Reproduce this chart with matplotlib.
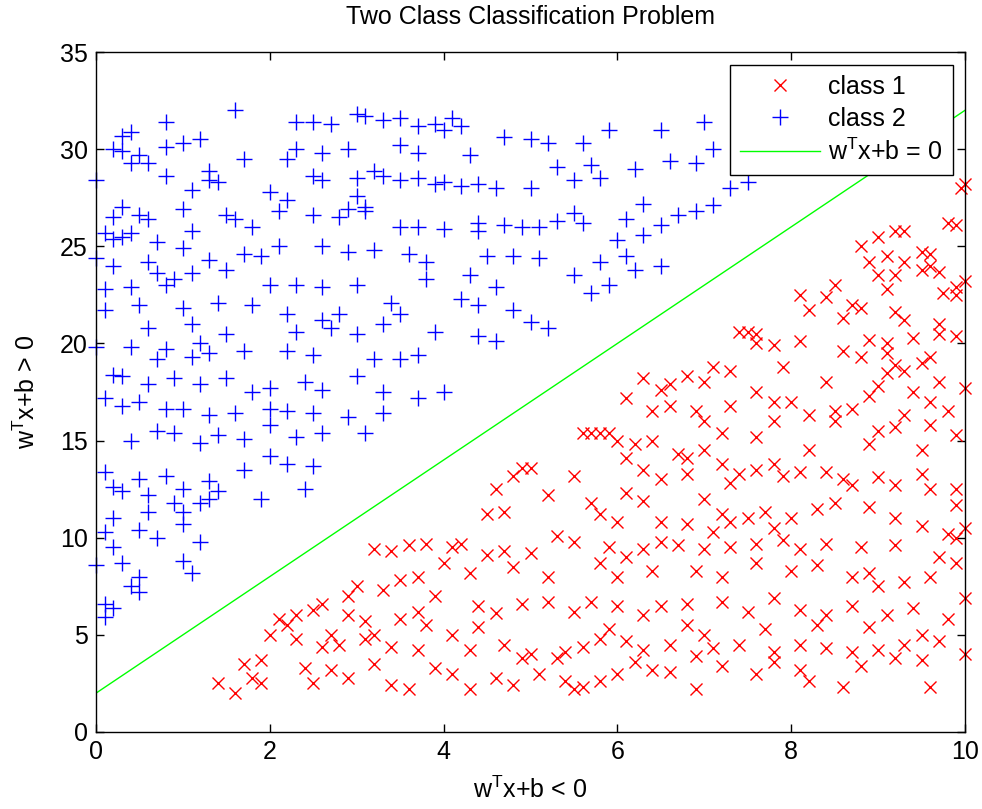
import numpy as np
import matplotlib
matplotlib.use("Agg")
import matplotlib.pyplot as plt

plt.rcParams['font.family'] = ['Liberation Sans', 'DejaVu Sans']
plt.rcParams['mathtext.fontset'] = 'custom'
plt.rcParams['mathtext.rm'] = 'Liberation Sans'
plt.rcParams['mathtext.it'] = 'Liberation Sans'

# class 2 (blue +)
class2 = [
    (1.6, 32), (2.3, 31.4), (2.5, 31.4), (2.7, 31.3), (3.0, 31.8), (3.1, 31.7), (3.3, 31.5), (3.5, 31.6),
    (3.7, 31.2), (3.9, 31.3), (4.1, 31.6), (4.2, 31.2), (4.0, 31.0), (0.8, 31.4), (7.0, 31.4), (7.4, 31.5),
    (1.2, 30.5), (0.3, 30.7), (0.4, 30.9), (0.2, 30.0), (0.3, 29.9), (0.5, 29.7), (0.8, 30.1), (1.0, 30.3),
    (1.7, 29.5), (2.2, 29.5), (2.3, 30.0), (2.6, 29.8), (2.9, 30.0), (3.5, 30.2), (3.7, 29.8), (4.3, 29.7),
    (5.0, 30.5), (5.2, 30.3), (5.6, 30.3), (4.7, 30.6), (5.9, 31.0), (6.5, 31.0), (5.3, 29.1), (6.2, 29.0),
    (6.6, 29.4), (6.9, 29.3), (7.1, 30.0), (7.5, 28.3), (0.0, 28.4), (0.4, 29.3), (0.6, 29.3), (0.8, 28.6),
    (1.3, 28.9), (1.3, 28.4), (1.4, 28.3), (1.1, 27.9), (2.0, 27.8), (2.5, 28.6), (2.6, 28.4), (3.0, 28.5),
    (3.2, 28.9), (3.3, 28.6), (3.5, 28.4), (3.7, 28.5), (3.9, 28.2), (4.0, 28.3), (4.2, 28.1), (4.4, 28.2),
    (4.6, 28.0), (5.0, 28.0), (5.5, 28.4), (5.7, 29.2), (5.8, 28.5), (3.0, 27.6), (3.1, 27.0), (0.3, 27.0),
    (0.2, 26.5), (0.5, 26.6), (0.6, 26.4), (1.0, 26.9), (1.1, 25.8), (1.5, 26.6), (1.6, 26.4), (1.8, 26.0),
    (2.1, 26.8), (2.2, 27.4), (2.5, 26.6), (2.8, 26.5), (2.9, 26.9), (3.1, 26.8), (3.5, 26.0), (3.7, 26.0),
    (4.0, 25.9), (4.4, 25.8), (4.4, 26.2), (4.7, 26.1), (4.9, 26.0), (5.1, 26.0), (5.3, 26.3), (5.5, 26.7),
    (5.6, 26.2), (6.1, 26.4), (6.3, 27.2), (6.7, 26.6), (6.5, 26.1), (6.9, 26.8), (7.1, 27.1), (7.3, 28.0),
    (0.1, 25.7), (0.2, 25.4), (0.3, 25.5), (0.4, 25.7), (0.7, 25.2), (0.0, 24.4), (0.2, 24.0), (0.6, 24.2),
    (1.0, 24.9), (1.3, 24.3), (1.5, 23.8), (1.7, 24.6), (1.9, 24.5), (2.1, 25.0), (2.6, 25.0), (2.9, 24.7),
    (3.2, 24.8), (3.6, 24.6), (3.8, 24.2), (4.5, 24.5), (4.8, 24.5), (5.1, 24.4), (5.5, 23.5), (5.8, 24.2),
    (6.0, 25.3), (6.1, 24.5), (6.3, 25.6), (0.7, 23.6), (0.9, 23.3), (1.1, 23.6), (0.4, 22.9), (0.8, 23.0),
    (0.1, 22.8), (2.0, 23.0), (2.3, 23.0), (2.6, 22.9), (3.0, 23.0), (3.8, 23.3), (4.3, 23.5), (4.6, 22.9),
    (5.7, 22.6), (5.9, 23.0), (6.5, 24.0), (6.2, 23.8), (0.1, 21.7), (0.5, 22.0), (1.0, 21.8), (1.4, 22.1),
    (1.8, 22.0), (2.2, 21.5), (2.6, 21.2), (2.8, 21.5), (3.4, 22.1), (3.5, 21.5), (4.2, 22.3), (4.4, 22.0),
    (4.8, 21.7), (5.0, 21.1), (0.6, 20.8), (1.1, 21.0), (1.5, 20.5), (1.2, 20.0), (2.3, 20.6), (2.7, 20.8),
    (3.0, 20.5), (3.3, 21.0), (3.9, 20.6), (4.4, 20.4), (4.6, 20.1), (5.2, 20.8), (0.0, 19.8), (0.4, 19.8),
    (0.7, 19.2), (0.8, 19.7), (1.1, 19.3), (1.3, 19.5), (1.7, 19.6), (2.2, 19.6), (2.5, 19.4), (3.2, 19.2),
    (3.5, 19.2), (3.7, 19.4), (0.2, 18.4), (0.3, 18.3), (0.6, 17.9), (0.9, 18.2), (1.2, 17.9), (1.5, 18.2),
    (1.8, 17.5), (2.0, 17.7), (2.4, 18.0), (2.6, 17.6), (3.0, 18.3), (3.3, 17.5), (3.7, 17.2), (4.0, 17.5),
    (0.1, 17.2), (0.3, 16.8), (0.5, 17.0), (0.8, 16.6), (1.0, 16.6), (1.3, 16.3), (1.6, 16.4), (2.0, 16.6),
    (2.2, 16.5), (2.5, 16.4), (2.9, 16.2), (3.3, 16.4), (0.4, 15.0), (0.7, 15.5), (0.9, 15.4), (1.2, 14.9),
    (1.4, 15.3), (1.7, 15.1), (2.0, 15.8), (2.3, 15.2), (2.6, 15.4), (3.1, 15.4), (0.1, 13.4), (0.2, 12.6),
    (0.5, 13.0), (0.8, 13.2), (1.0, 12.5), (1.3, 12.9), (1.7, 13.5), (2.2, 13.8), (2.5, 13.7), (2.0, 14.2),
    (0.3, 12.4), (0.6, 12.2), (1.4, 12.4), (1.9, 12.0), (2.4, 12.5), (0.2, 11.0), (0.6, 11.3), (0.9, 11.8),
    (1.0, 11.3), (1.2, 11.8), (1.3, 12.0), (0.5, 10.4), (0.1, 10.3), (0.7, 10.0), (1.0, 10.7), (0.2, 9.5),
    (0.3, 8.7), (0.5, 8.0), (0.4, 7.5), (0.0, 8.6), (1.0, 8.8), (1.1, 8.2), (1.2, 9.8), (0.1, 6.6),
    (0.2, 6.4), (0.1, 5.9), (0.5, 7.2),
]

# class 1 (red x)
class1 = [
    (9.3, 25.8), (9.2, 25.8), (9.8, 26.2), (9.0, 25.5), (8.8, 25.0), (9.1, 24.5), (9.5, 24.7), (9.6, 24.0),
    (9.5, 23.8), (9.7, 23.7), (9.2, 23.5), (9.0, 23.5), (8.5, 23.0), (8.4, 22.4), (8.7, 22.0), (8.6, 21.3),
    (8.2, 21.7), (8.1, 22.5), (9.1, 22.8), (9.2, 21.6), (9.9, 22.9), (10.0, 23.2), (9.9, 22.5), (10.0, 28.2),
    (9.95, 28.0), (9.3, 21.2), (9.1, 20.0), (8.9, 20.2), (9.4, 20.3), (9.7, 20.5), (9.9, 20.4), (7.4, 20.6),
    (7.5, 20.6), (7.6, 20.5), (7.6, 20.0), (7.8, 19.9), (8.6, 19.6), (8.8, 19.3), (9.1, 19.5), (9.2, 18.9),
    (9.3, 18.6), (9.5, 19.0), (9.6, 19.3), (9.1, 18.5), (9.0, 17.8), (8.9, 17.3), (9.4, 17.5), (9.6, 17.0),
    (9.8, 16.5), (9.7, 18.0), (10.0, 17.7), (7.1, 18.8), (7.3, 18.6), (7.0, 18.0), (6.8, 18.3), (6.3, 18.2),
    (6.5, 17.6), (6.1, 17.2), (6.4, 16.5), (6.6, 16.8), (6.9, 16.5), (7.3, 16.8), (7.6, 17.5), (7.8, 17.0),
    (8.0, 17.0), (8.2, 16.3), (8.5, 16.5), (8.7, 16.6), (9.3, 16.3), (9.6, 15.8), (9.0, 15.5), (9.2, 15.7),
    (9.9, 15.3), (7.8, 16.0), (7.6, 15.2), (7.2, 15.4), (7.0, 14.5), (6.7, 14.3), (6.4, 15.0), (6.2, 14.8),
    (6.0, 15.0), (5.9, 15.4), (5.6, 15.4), (5.7, 15.4), (5.8, 15.4), (6.1, 14.1), (6.3, 13.5), (6.5, 13.0),
    (6.8, 14.1), (7.2, 13.8), (7.4, 13.3), (7.6, 13.5), (7.8, 13.8), (7.9, 13.2), (8.1, 13.4), (8.4, 13.4),
    (8.6, 13.0), (8.7, 12.7), (9.0, 13.1), (9.2, 12.7), (9.5, 13.3), (9.6, 12.5), (9.9, 12.5), (6.8, 13.3),
    (7.3, 12.8), (7.0, 12.0), (6.3, 11.9), (6.1, 12.3), (5.5, 13.2), (5.2, 12.2), (4.9, 13.6), (4.8, 13.2),
    (5.0, 13.6), (4.6, 12.5), (4.7, 11.3), (4.5, 11.2), (5.7, 11.8), (5.8, 11.2), (6.0, 10.8), (6.5, 10.8),
    (6.8, 10.7), (7.2, 11.2), (7.3, 10.8), (7.1, 10.3), (7.5, 11.0), (7.7, 11.3), (7.8, 10.5), (8.0, 11.0),
    (8.3, 11.5), (8.5, 11.8), (8.9, 11.6), (9.2, 11.0), (9.5, 10.6), (9.8, 10.2), (9.9, 11.7), (10.0, 10.5),
    (9.9, 10.0), (9.7, 9.0), (9.2, 9.6), (8.8, 9.5), (8.7, 8.0), (8.4, 9.7), (8.1, 9.4), (7.9, 9.9),
    (7.6, 9.7), (7.3, 9.5), (7.0, 9.4), (6.7, 9.6), (6.5, 9.8), (6.3, 9.4), (6.1, 9.0), (5.9, 9.5),
    (5.5, 9.8), (5.3, 10.1), (5.0, 9.2), (4.7, 9.3), (4.5, 9.1), (4.2, 9.7), (4.1, 9.5), (3.8, 9.7),
    (3.4, 9.3), (3.6, 9.6), (3.2, 9.4), (4.0, 8.7), (4.3, 8.2), (4.8, 8.5), (5.2, 8.0), (5.8, 8.7),
    (6.0, 8.0), (6.4, 8.3), (6.9, 8.3), (7.2, 8.0), (7.6, 8.7), (8.0, 8.3), (8.3, 8.6), (8.9, 8.2),
    (9.0, 7.5), (9.3, 7.7), (9.6, 8.0), (9.9, 8.7), (10.0, 6.9), (3.7, 8.0), (3.5, 7.8), (3.9, 7.0),
    (3.3, 7.3), (3.0, 7.5), (2.9, 7.0), (2.6, 6.6), (2.5, 6.3), (2.3, 6.0), (2.2, 5.5), (2.1, 5.8),
    (2.0, 5.0), (2.3, 4.8), (2.6, 4.4), (2.8, 4.5), (3.1, 4.8), (3.4, 4.4), (3.7, 4.2), (3.2, 5.0),
    (3.5, 5.8), (3.8, 5.5), (4.1, 5.0), (4.3, 4.2), (4.7, 4.5), (5.0, 4.0), (5.4, 4.1), (5.6, 4.4),
    (5.8, 4.8), (6.1, 4.7), (6.3, 4.2), (6.6, 4.5), (6.9, 3.9), (7.1, 4.3), (7.4, 4.5), (7.8, 4.1),
    (8.1, 4.5), (8.4, 4.3), (8.7, 4.1), (9.0, 4.2), (9.3, 4.5), (9.7, 4.7), (10.0, 4.0), (4.4, 6.5),
    (4.6, 6.1), (4.9, 6.6), (5.2, 6.7), (5.5, 6.2), (5.7, 6.7), (6.0, 6.5), (6.3, 6.0), (6.5, 6.5),
    (6.8, 6.6), (7.2, 6.7), (7.5, 6.2), (7.8, 6.9), (8.1, 6.3), (8.4, 6.0), (8.7, 6.5), (9.1, 6.0),
    (9.4, 6.4), (9.8, 5.8), (2.7, 3.2), (2.9, 2.8), (3.2, 3.5), (3.4, 2.4), (3.6, 2.2), (3.9, 3.3),
    (4.1, 3.0), (4.3, 2.2), (4.6, 2.8), (4.8, 2.4), (5.1, 3.0), (5.4, 2.6), (5.6, 2.3), (5.5, 2.2),
    (5.8, 2.6), (6.0, 3.0), (6.4, 3.2), (6.6, 3.1), (6.9, 2.2), (7.2, 3.4), (7.6, 3.0), (7.8, 3.6),
    (8.1, 3.2), (8.2, 2.6), (8.6, 2.3), (8.8, 3.4), (9.2, 3.8), (9.6, 2.3), (9.5, 3.7), (1.4, 2.5),
    (1.6, 2.0), (1.7, 3.5), (1.8, 2.8), (1.9, 2.5), (2.5, 2.5), (2.4, 3.3), (1.9, 3.7), (2.7, 5.0),
    (2.9, 6.0), (3.1, 5.7), (5.3, 3.8), (4.9, 3.8), (6.2, 3.6), (7.0, 5.0), (7.7, 5.3), (8.3, 5.5),
    (8.9, 5.4), (9.5, 5.0), (6.8, 5.5), (5.9, 5.3), (4.4, 5.4), (3.7, 6.2), (8.2, 14.5), (8.9, 14.8),
    (9.5, 14.5), (6.6, 17.9), (7.9, 18.8), (8.4, 18.0), (8.1, 20.1), (8.8, 21.8), (9.7, 21.0), (8.5, 16.0),
    (7.0, 16.0), (9.3, 24.2), (8.9, 24.2), (9.9, 26.1), (9.6, 24.6), (9.75, 22.6),
]

# separating line w^T x + b = 0  ->  y = 3x + 2
line_x = [0, 10]
line_y = [2, 32]

c1 = np.array(class1)
c2 = np.array(class2)

fs = 18

fig = plt.figure(figsize=(9.82, 8.09), dpi=100)
ax = fig.add_axes([0.0978, 0.0952, 0.8849, 0.8405])

ax.plot(c1[:, 0], c1[:, 1], 'x', color='red', markersize=9, markeredgewidth=1.0,
        label='class 1', clip_on=False)
ax.plot(c2[:, 0], c2[:, 1], '+', color='blue', markersize=12, markeredgewidth=1.0,
        label='class 2', clip_on=False)
ax.plot(line_x, line_y, '-', color='#00ff00', linewidth=1.0,
        label=r'w$^\mathregular{T}$x+b = 0')

ax.set_xlim(0, 10)
ax.set_ylim(0, 35)
ax.set_xticks(range(0, 11, 2))
ax.set_yticks(range(0, 36, 5))
ax.tick_params(direction='in', top=True, right=True, labelsize=fs, length=6, width=1, pad=6)
for s in ax.spines.values():
    s.set_linewidth(1.0)

ax.set_title('Two Class Classification Problem', fontsize=fs, pad=20)
ax.set_xlabel(r'w$^\mathregular{T}$x+b < 0', fontsize=fs, labelpad=9)
ax.set_ylabel(r'w$^\mathregular{T}$x+b > 0', fontsize=fs, labelpad=14)

leg = ax.legend(loc='upper right', fontsize=fs, fancybox=False, edgecolor='black',
                framealpha=1, borderaxespad=0.5, handlelength=3.2, handletextpad=0.35,
                labelspacing=0.32, borderpad=0.4)
leg.get_frame().set_linewidth(1.0)

fig.savefig('out.png', dpi=100)
